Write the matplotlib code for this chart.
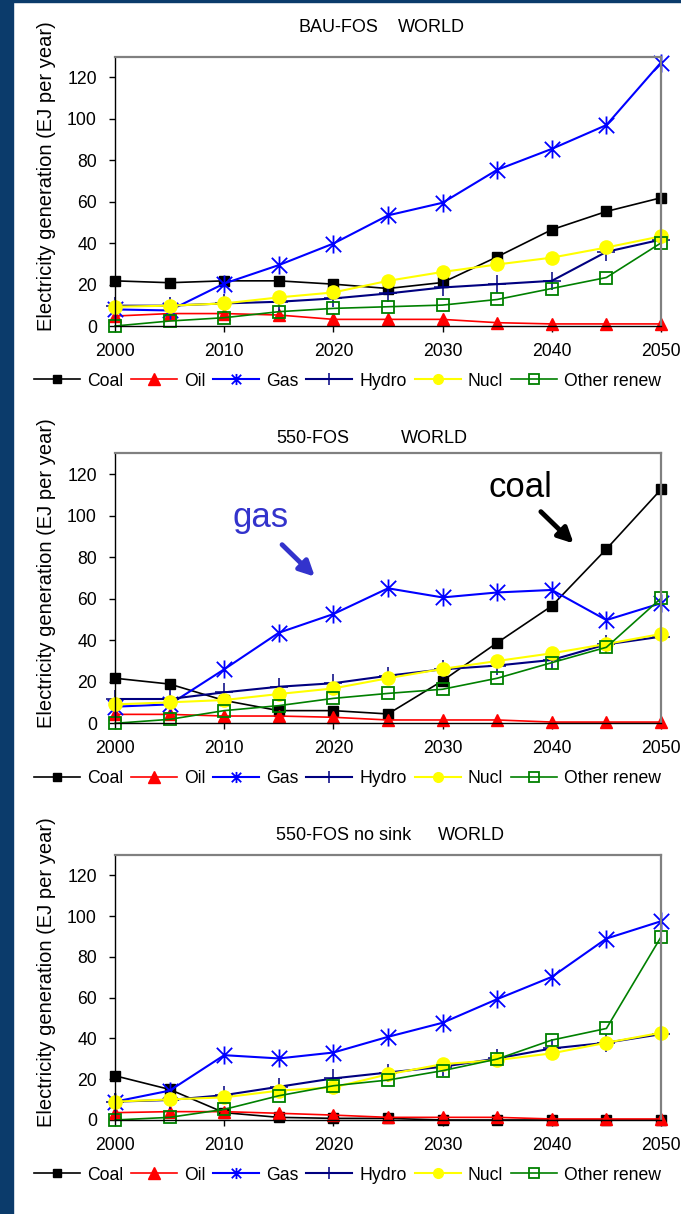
import matplotlib
matplotlib.use("Agg")
import matplotlib.pyplot as plt
from matplotlib.lines import Line2D
from matplotlib.path import Path
from matplotlib.patches import Rectangle

plt.rcParams['font.family'] = ['Liberation Sans', 'DejaVu Sans']

# ---------------- data ----------------
years = [2000, 2005, 2010, 2015, 2020, 2025, 2030, 2035, 2040, 2045, 2050]
series_names = ["Coal", "Oil", "Gas", "Hydro", "Nucl", "Other renew"]

bau_coal = [21.8, 20.9, 21.8, 21.8, 20.2, 18.1, 21.0, 33.4, 46.5, 55.3, 61.9]
bau_oil = [4.8, 6.0, 6.0, 5.3, 3.2, 3.2, 3.2, 1.6, 1.0, 1.0, 1.0]
bau_gas = [8.0, 7.5, 20.5, 29.4, 39.8, 53.4, 59.5, 75.4, 85.5, 97.0, 127.2]
bau_hydro = [9.8, 9.8, 10.9, 11.7, 13.3, 15.7, 18.6, 20.2, 21.8, 35.8, 41.7]
bau_nucl = [9.3, 9.8, 10.9, 13.8, 16.2, 21.8, 26.1, 29.7, 33.0, 37.9, 43.3]
bau_other = [0.0, 2.4, 4.0, 6.9, 8.5, 9.3, 10.1, 12.8, 18.1, 23.4, 40.1]

fos_coal = [21.7, 18.9, 11.0, 6.1, 6.1, 4.5, 20.5, 38.8, 56.5, 83.9, 112.6]
fos_oil = [4.3, 4.3, 3.5, 3.5, 2.9, 1.6, 1.6, 1.6, 0.6, 0.6, 0.6]
fos_gas = [8.0, 9.1, 26.0, 43.6, 52.6, 65.0, 60.6, 63.0, 64.2, 49.7, 57.8]
fos_hydro = [11.7, 11.7, 14.9, 17.6, 19.3, 22.9, 26.0, 27.8, 30.5, 38.0, 41.7]
fos_nucl = [9.1, 10.1, 11.2, 14.1, 16.8, 21.7, 26.2, 30.0, 33.7, 38.2, 43.0]
fos_other = [0.0, 1.9, 6.1, 8.5, 12.0, 14.4, 16.4, 21.7, 29.2, 36.6, 60.2]

ns_coal = [21.7, 15.0, 3.6, 1.3, 0.8, 0.8, 0.0, 0.0, 0.0, 0.0, 0.0]
ns_oil = [3.6, 4.1, 4.1, 3.3, 2.4, 1.3, 1.3, 1.3, 0.5, 0.5, 0.5]
ns_gas = [9.0, 14.4, 31.8, 30.2, 33.1, 40.8, 47.7, 59.3, 70.2, 89.0, 97.5]
ns_hydro = [9.0, 9.8, 12.2, 16.3, 20.4, 23.3, 26.1, 30.2, 35.1, 37.9, 42.1]
ns_nucl = [9.0, 10.1, 11.1, 14.4, 16.0, 22.4, 27.4, 29.4, 32.7, 37.9, 42.8]
ns_other = [0.0, 1.3, 5.2, 11.9, 16.8, 19.6, 24.2, 29.9, 39.2, 44.9, 89.8]

panel_titles = [("BAU-FOS", "WORLD"), ("550-FOS", "WORLD"), ("550-FOS no sink", "WORLD")]
y_ticks = [0, 20, 40, 60, 80, 100, 120]
x_ticks = [2000, 2010, 2020, 2030, 2040, 2050]
y_label = "Electricity generation (EJ per year)"

panels = [
    [bau_coal, bau_oil, bau_gas, bau_hydro, bau_nucl, bau_other],
    [fos_coal, fos_oil, fos_gas, fos_hydro, fos_nucl, fos_other],
    [ns_coal, ns_oil, ns_gas, ns_hydro, ns_nucl, ns_other],
]

# ---------------- styles ----------------
star = Path([(0, -1), (0, 1), (-0.85, -0.85), (0.85, 0.85), (-0.85, 0.85), (0.85, -0.85)],
            [Path.MOVETO, Path.LINETO, Path.MOVETO, Path.LINETO, Path.MOVETO, Path.LINETO])

styles = [
    dict(color="black", marker="s", ms=6.5, mfc="black", mec="black", mew=1, lw=1.2),
    dict(color="#ff0000", marker="^", ms=8, mfc="#ff0000", mec="#ff0000", mew=1, lw=1.2),
    dict(color="#0000ff", marker=star, ms=13, mfc="none", mec="#0000ff", mew=1.3, lw=1.5),
    dict(color="#000080", marker="+", ms=13, mfc="none", mec="#000080", mew=1.1, lw=1.5),
    dict(color="#ffff00", marker="o", ms=9.5, mfc="#ffff00", mec="#ffff00", mew=1, lw=1.5),
    dict(color="#008000", marker="s", ms=8.5, mfc="none", mec="#008000", mew=1.3, lw=1.2),
]
legend_ms = [5.5, 8, 8, 9, 7, 6.5]

W, H = 681, 1214
fig = plt.figure(figsize=(W / 100, H / 100), dpi=100)
fig.patch.set_facecolor("white")

# dark frame strips
fig.add_artist(Rectangle((0, 0), 13 / W, 1, transform=fig.transFigure, color="#0b3b6b", zorder=0))
fig.add_artist(Rectangle((0, 1 - 2 / H), 1, 2 / H, transform=fig.transFigure, color="#0b3b6b", zorder=0))

axes_px = [(115, 661, 56.7, 326), (115, 661, 453.3, 723.3), (115, 661, 855, 1120)]
title_px = [((298, 397.5), 27), ((276, 401), 438), ((276, 438), 836)]

FS = 12.7

for i, (vals, (l, r, t, b)) in enumerate(zip(panels, axes_px)):
    ax = fig.add_axes([l / W, 1 - b / H, (r - l) / W, (b - t) / H])
    for v, st in zip(vals, styles):
        ax.plot(years, v, clip_on=False, solid_joinstyle="round", **st)
    ax.set_xlim(2000, 2050)
    ax.set_ylim(0, 130)
    ax.set_yticks(y_ticks)
    ax.set_xticks(x_ticks)
    ax.tick_params(axis="both", direction="out", length=4, width=1, color="black",
                   labelsize=FS, pad=9)
    ax.tick_params(axis="x", pad=8)
    for s in ("left", "bottom"):
        ax.spines[s].set_color("black")
        ax.spines[s].set_linewidth(1)
    for s in ("top", "right"):
        ax.spines[s].set_color("#808080")
        ax.spines[s].set_linewidth(1.6)
    ax.set_ylabel(y_label, fontsize=14.5)
    ylab_center = (t + b) / 2 - 15
    ax.yaxis.set_label_coords((56 - l) / (r - l), (b - ylab_center) / (b - t))

    (x1, x2), ty = title_px[i]
    fig.text(x1 / W, 1 - ty / H, panel_titles[i][0], fontsize=13, ha="left", va="center")
    fig.text(x2 / W, 1 - ty / H, panel_titles[i][1], fontsize=13, ha="left", va="center")

    handles = [Line2D([], [], **{**st, "ms": m}) for st, m in zip(styles, legend_ms)]
    fig.legend(handles, series_names, loc="center left",
               bbox_to_anchor=(34 / W, 1 - (b + 55) / H), ncol=6, frameon=False,
               fontsize=FS, handlelength=2.6, handletextpad=0.4, columnspacing=0.45,
               borderpad=0, borderaxespad=0)

    if i == 1:
        gcol = "#3333cc"
        ax.text(2013.3, 94.6, "gas", color=gcol, fontsize=25, ha="center", va="baseline")
        ax.annotate("", xy=(2018.3, 70.6), xytext=(2015.3, 86.0),
                    arrowprops=dict(arrowstyle="-|>,head_length=0.9,head_width=0.45",
                                    color=gcol, lw=3.5, shrinkA=0, shrinkB=0))
        ax.text(2037.1, 109.1, "coal", color="black", fontsize=25, ha="center", va="baseline")
        ax.annotate("", xy=(2042.0, 86.6), xytext=(2039.0, 101.9),
                    arrowprops=dict(arrowstyle="-|>,head_length=0.9,head_width=0.45",
                                    color="black", lw=3.5, shrinkA=0, shrinkB=0))

fig.savefig("out.png", dpi=100, facecolor="white")
